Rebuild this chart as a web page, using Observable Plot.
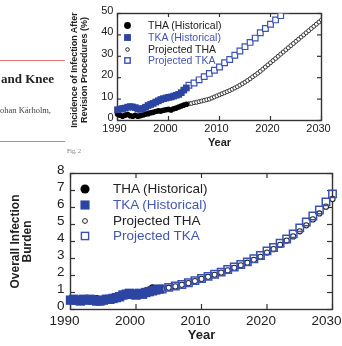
<!DOCTYPE html>
<html><head><meta charset="utf-8">
<script src="https://cdn.jsdelivr.net/npm/d3@7"></script>
<script src="https://cdn.jsdelivr.net/npm/@observablehq/plot@0.6"></script>
<style>
body{margin:0;background:#fff;width:342px;height:346px;overflow:hidden;position:relative;font-family:"Liberation Sans",Arial,sans-serif}
.abs{position:absolute;white-space:nowrap}
#snip,#top,#toplegend{filter:blur(0.45px)}
#bot,#botlegend{filter:blur(0.3px)}
</style></head><body>
<div id="snip"></div>
<div id="top" class="abs" style="left:60px;top:0px"></div>
<div id="bot" class="abs" style="left:0px;top:160px"></div>
<script>
// ---------- data ----------
const histYears = [1990,1990.5,1991,1991.5,1992,1992.5,1993,1993.5,1994,1994.5,1995,1995.5,1996,1996.5,1997,1997.5,1998,1998.5,1999,1999.5,2000,2000.5,2001,2001.5,2002,2002.5,2003,2003.5];
// top chart: incidence of infection after revision (%)
const topThaHist = [3.0,2.5,2.0,2.5,2.8,2.2,2.0,2.4,2.0,2.3,2.6,3.0,3.2,3.6,3.8,4.2,4.5,4.4,4.8,5.0,5.2,4.9,5.5,5.8,6.3,6.8,7.2,7.6];
const topTkaHist = [5.0,5.3,5.6,5.8,6.2,6.5,6.3,6.0,5.5,5.2,5.6,6.2,7.0,7.5,8.0,8.6,9.2,9.8,10.2,10.5,10.8,11.0,11.4,11.8,12.2,13.0,14.2,15.2];
const topThaProjYears = [2004,2004.5,2005,2005.5,2006,2006.5,2007,2007.5,2008,2008.5,2009,2009.5,2010,2010.5,2011,2011.5,2012,2012.5,2013,2013.5,2014,2014.5,2015,2015.5,2016,2016.5,2017,2017.5,2018,2018.5,2019,2019.5,2020,2020.5,2021,2021.5,2022,2022.5,2023,2023.5,2024,2024.5,2025,2025.5,2026,2026.5,2027,2027.5,2028,2028.5,2029,2029.5,2030];
const topThaProj = [7.8,8.0,8.3,8.5,8.8,9.1,9.4,9.7,10.0,10.5,11.0,11.5,12.0,12.5,13.0,13.5,14.0,14.6,15.2,15.8,16.5,17.2,17.9,18.7,19.5,20.4,21.2,22.1,23.0,24.0,25.0,26.0,27.0,28.0,29.0,30.0,31.0,32.0,33.0,34.0,35.0,36.0,37.0,38.0,39.0,40.0,41.0,42.0,43.0,44.0,45.0,46.0,47.0];
const topTkaProjYears = [2004,2005,2006,2007,2008,2009,2010,2011,2012,2013,2014,2015,2016,2017,2018,2019,2020,2021,2022,2023];
const topTkaProj = [16.5,17.5,19,20.5,22,23.5,25,27,28.5,30.5,32.5,34.5,36.5,38.5,41,43,45,47,49,51.5];
// bottom chart: overall infection burden
const botThaHist = [0.55,0.5,0.55,0.6,0.55,0.6,0.6,0.55,0.65,0.55,0.55,0.6,0.62,0.65,0.72,0.75,0.85,0.9,0.95,0.95,0.95,0.95,1.0,1.05,1.15,1.28,1.15,1.15];
const botTkaHist = [0.55,0.6,0.55,0.5,0.6,0.55,0.6,0.55,0.5,0.5,0.55,0.6,0.6,0.65,0.7,0.75,0.85,0.9,0.95,0.9,0.85,0.95,0.9,1.0,1.05,1.1,1.15,1.2];
const projYears = [2004,2005,2006,2007,2008,2009,2010,2011,2012,2013,2014,2015,2016,2017,2018,2019,2020,2021,2022,2023,2024,2025,2026,2027,2028,2029,2030];
const botThaProj = [1.2,1.28,1.36,1.45,1.55,1.67,1.8,1.92,2.04,2.17,2.3,2.45,2.6,2.75,2.92,3.1,3.35,3.55,3.8,4.05,4.3,4.6,4.95,5.3,5.65,6.05,6.5];
const botTkaProj = [1.2,1.3,1.38,1.47,1.57,1.7,1.82,1.95,2.07,2.2,2.35,2.5,2.65,2.8,2.98,3.18,3.45,3.65,3.9,4.15,4.45,4.8,5.15,5.5,5.85,6.33,6.8];
const xTicks = [1990,2000,2010,2020,2030];
const topYTicks = [0,10,20,30,40,50];
const botYTicks = [0,1,2,3,4,5,6,7,8];
const legendLabels = ["THA (Historical)","TKA (Historical)","Projected THA","Projected TKA"];
const topYLabel = "Incidence of Infection After\nRevision Procedures (%)";
const botYLabel = "Overall Infection\nBurden";
const xLabel = "Year";

const BLUE_FILL = "#2c45a3", BLUE_STROKE = "#3b52b5", BLUE_TEXT = "#4356b2", INK = "#222";
const zip = (xs, ys) => xs.map((x, i) => ({x, y: ys[i]}));

// axes with inward ticks on all four sides
function frameAxes(yt, {fw, fh, tick, size, xPad, yPad, xDx, yDy}) {
  return [
    Plot.axisX({ticks: xTicks, tickFormat: d => String(d), tickSize: 0, tickPadding: xPad, label: null, fontSize: size, dx: xDx}),
    Plot.axisY({ticks: yt, tickSize: 0, tickPadding: yPad, label: null, fontSize: size, dy: yDy}),
    Plot.tickX(xTicks, {x: d => d, insetTop: fh - tick, stroke: "#333", strokeWidth: 1.2}),
    Plot.tickX(xTicks, {x: d => d, insetBottom: fh - tick, stroke: "#333", strokeWidth: 1.2}),
    Plot.tickY(yt, {y: d => d, insetRight: fw - tick, stroke: "#333", strokeWidth: 1.2}),
    Plot.tickY(yt, {y: d => d, insetLeft: fw - tick, stroke: "#333", strokeWidth: 1.2}),
    Plot.frame({stroke: "#333", strokeWidth: 1.4})
  ];
}

// ---------- top chart ----------
const TOP = {w: 282, h: 150, ml: 57, mr: 21, mt: 13, mb: 30};
const topPlot = Plot.plot({
  width: TOP.w, height: TOP.h,
  marginLeft: TOP.ml, marginRight: TOP.mr, marginTop: TOP.mt, marginBottom: TOP.mb,
  style: {fontFamily: "Liberation Sans, Arial, sans-serif", fontSize: "11px", color: INK, background: "transparent", overflow: "visible"},
  x: {domain: [1990, 2030]},
  y: {domain: [0, 50]},
  marks: [
    ...frameAxes(topYTicks, {fw: TOP.w - TOP.ml - TOP.mr, fh: TOP.h - TOP.mt - TOP.mb, tick: 4, size: 11, xPad: 4, yPad: 4, xDx: -3, yDy: -3}),
    Plot.dot(zip(topThaProjYears, topThaProj), {x: "x", y: "y", r: 2, stroke: "#333", fill: "white", strokeWidth: 1, clip: true}),
    Plot.dot(zip(topTkaProjYears, topTkaProj), {x: "x", y: "y", symbol: "square", r: 3.2, stroke: BLUE_STROKE, fill: "white", strokeWidth: 1.2, clip: true}),
    Plot.dot(zip(histYears, topThaHist), {x: "x", y: "y", r: 2.8, fill: "black"}),
    Plot.dot(zip(histYears, topTkaHist), {x: "x", y: "y", symbol: "square", r: 3.8, fill: BLUE_FILL}),
    Plot.text([xLabel], {text: d => d, frameAnchor: "bottom", dy: 25, fontWeight: "bold", fontSize: 11}),
    Plot.text([topYLabel], {text: d => d, frameAnchor: "left", textAnchor: "middle", rotate: -90, dx: -39, dy: 3, fontWeight: "bold", fontSize: 9, lineHeight: 1.1})
  ]
});
document.getElementById("top").appendChild(topPlot);

// ---------- bottom chart ----------
const BOT = {w: 342, h: 186, ml: 70, mr: 10, mt: 13, mb: 37};
const botPlot = Plot.plot({
  width: BOT.w, height: BOT.h,
  marginLeft: BOT.ml, marginRight: BOT.mr, marginTop: BOT.mt, marginBottom: BOT.mb,
  style: {fontFamily: "Liberation Sans, Arial, sans-serif", fontSize: "13.5px", color: INK, background: "transparent", overflow: "visible"},
  x: {domain: [1990, 2030]},
  y: {domain: [0, 8]},
  marks: [
    ...frameAxes(botYTicks, {fw: BOT.w - BOT.ml - BOT.mr, fh: BOT.h - BOT.mt - BOT.mb, tick: 5, size: 13.5, xPad: 6, yPad: 6, xDx: -6, yDy: -4}),
    Plot.dot(zip(projYears, botThaProj), {x: "x", y: "y", r: 2.6, stroke: "#222", fill: "white", strokeWidth: 1.1}),
    Plot.dot(zip(projYears, botTkaProj), {x: "x", y: "y", symbol: "square", r: 4.2, stroke: BLUE_STROKE, fill: "none", strokeWidth: 1.5}),
    Plot.dot(zip(histYears, botThaHist), {x: "x", y: "y", r: 3.5, fill: "black"}),
    Plot.dot(zip(histYears, botTkaHist), {x: "x", y: "y", symbol: "square", r: 5.3, fill: BLUE_FILL}),
    Plot.text([xLabel], {text: d => d, frameAnchor: "bottom", dy: 29, fontWeight: "bold", fontSize: 13}),
    Plot.text([botYLabel], {text: d => d, frameAnchor: "left", textAnchor: "middle", rotate: -90, dx: -49, fontWeight: "bold", fontSize: 12, lineHeight: 1.0})
  ]
});
document.getElementById("bot").appendChild(botPlot);

// ---------- legends (HTML) ----------
function marker(kind, s) {
  const c = s / 2;
  const shapes = [
    `<circle cx="${c}" cy="${c}" r="${s * 0.38}" fill="black"/>`,
    `<rect x="${s * 0.12}" y="${s * 0.12}" width="${s * 0.76}" height="${s * 0.76}" fill="${BLUE_FILL}"/>`,
    `<circle cx="${c}" cy="${c}" r="${s * 0.2}" fill="white" stroke="#222" stroke-width="1"/>`,
    `<rect x="${s * 0.2}" y="${s * 0.2}" width="${s * 0.6}" height="${s * 0.6}" fill="white" stroke="${BLUE_STROKE}" stroke-width="1.4"/>`
  ];
  return `<svg width="${s}" height="${s}" style="position:absolute;left:${-c}px;top:${-c}px">${shapes[kind]}</svg>`;
}
function legend({id, markerX, textX, rows, fontSize, size}) {
  const box = document.createElement("div");
  box.id = id;
  box.className = "abs";
  box.style.cssText = `left:0;top:0;width:342px;height:346px`;
  legendLabels.forEach((lab, i) => {
    const m = document.createElement("div");
    m.className = "abs";
    m.style.cssText = `left:${markerX}px;top:${rows[i]}px`;
    m.innerHTML = marker(i, size);
    box.appendChild(m);
    const t = document.createElement("div");
    t.className = "abs";
    t.textContent = lab;
    t.style.cssText = `left:${textX}px;top:${rows[i] - fontSize * 0.6}px;font-size:${fontSize}px;line-height:${fontSize * 1.2}px;color:${i % 2 ? BLUE_TEXT : INK}`;
    box.appendChild(t);
  });
  document.body.appendChild(box);
}
legend({id: "toplegend", markerX: 127, textX: 148, rows: [25, 37, 49, 60], fontSize: 10.5, size: 9});
legend({id: "botlegend", markerX: 85, textX: 113, rows: [189, 205, 221, 236], fontSize: 13.5, size: 12});

// ---------- page snippet at left ----------
const snip = document.getElementById("snip");
snip.innerHTML = `
<div class="abs" style="left:0;top:60px;width:65px;height:1.3px;background:#e07a7a"></div>
<div class="abs" style="left:1px;top:71px;font:bold 13px 'Liberation Serif',serif;color:#222">and Knee</div>
<div class="abs" style="left:0;top:105px;font:8.5px 'Liberation Serif',serif;color:#444">ohan Kärholm,</div>
<div class="abs" style="left:0;top:141px;width:65px;height:1.3px;background:#e07a7a"></div>
<div class="abs" style="left:67px;top:148px;font:6px 'Liberation Serif',serif;color:#777">Fig. 2</div>`;
</script>
</body></html>
